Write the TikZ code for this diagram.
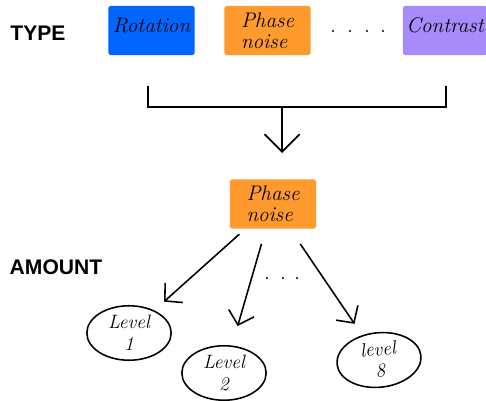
\documentclass[tikz,border=0pt]{standalone}
\usepackage{fontspec}
\newfontfamily\headfont{Liberation Sans}
\usetikzlibrary{arrows.meta,shapes.geometric}
\definecolor{rotblue}{HTML}{0066FF}
\definecolor{phaseorange}{HTML}{FF9A2E}
\definecolor{contrastpurple}{HTML}{A78BFA}
\tikzset{
  head/.style={font=\headfont\bfseries\fontsize{12}{14}\selectfont},
  kind/.style={rounded corners=1pt, minimum width=49pt, minimum height=28pt, inner sep=2pt, align=left, font=\itshape\fontsize{12}{12}\selectfont},
  level/.style={ellipse, draw, line width=0.9pt, minimum width=48pt, minimum height=31pt, inner sep=0pt, align=center, font=\itshape\fontsize{11}{12.5}\selectfont},
  link/.style={line width=0.9pt, -{Straight Barb[length=7pt,width=15pt]}},
}
\begin{document}
\begin{tikzpicture}[scale=.02]
\useasboundingbox (0,0) rectangle (486,401);
\node[head] (type) at (38,368){TYPE};
\node[kind, fill=rotblue, text depth=6pt] (rot) at (151.5,370.5){Rotation};
\node[kind, fill=phaseorange] (ph1) at (267.5,370.5){Phase\\noise};
\node[kind, fill=contrastpurple, minimum width=46.5pt, text depth=6pt] (con) at (445,370.5){Contrast};
\foreach \x in {333,350,367,383} \fill (\x,370) circle (1.1);
\coordinate (brl) at (148,315);
\coordinate (brr) at (446,315);
\coordinate (brm) at (282,294);
\coordinate (tip) at (282,248);
\draw[line width=1pt] (brl) |- (brm) -| (brr);
\draw[line width=1pt, -{Straight Barb[length=10pt,width=20pt]}] (brm) -- (tip);
\node[kind, fill=phaseorange] (ph2) at (273,197){Phase\\noise};
\node[head] (amount) at (56,134){AMOUNT};
\node[level] (lvl1) at (129,68){Level\\1};
\node[level] (lvl2) at (224,28){Level\\2};
\node[level, rotate=6] (lvl8) at (379,41){level\\8};
\draw[link, shorten <=4.5pt, shorten >=7.4pt] (ph2) -- (lvl1);
\draw[link, shorten <=8.9pt, shorten >=11.5pt] (ph2) -- (lvl2);
\draw[link, shorten <=10.3pt, shorten >=7.8pt] (ph2) -- (lvl8);
\foreach \x in {267,283,297} \fill (\x,123) circle (1.1);
\end{tikzpicture}
\end{document}
